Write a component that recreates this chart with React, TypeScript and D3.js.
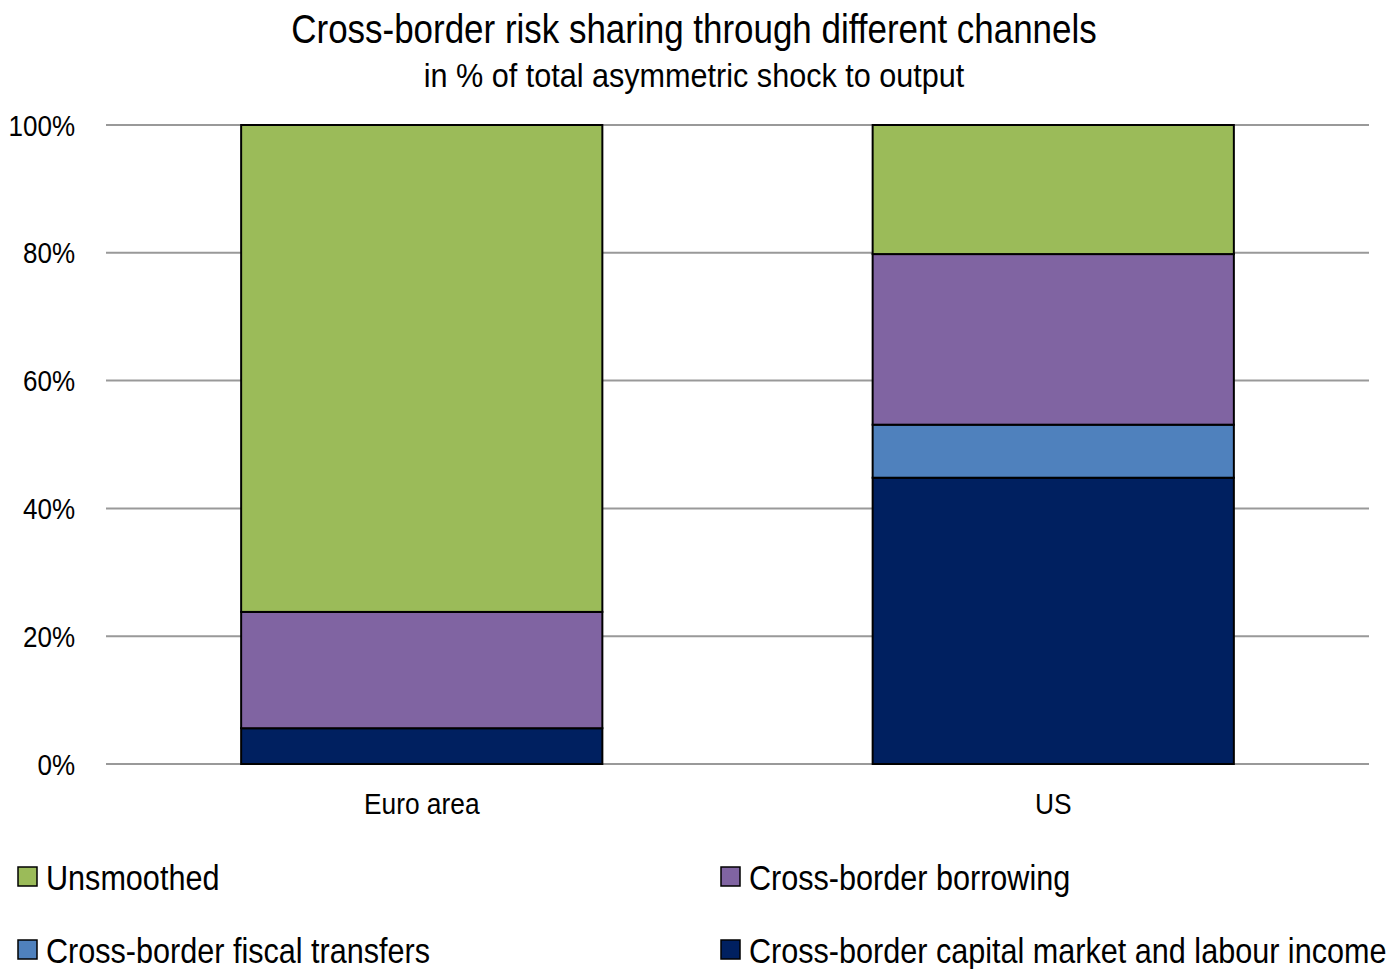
import React from "react";
import * as d3 from "d3";

const categories = ["Euro area", "US"];
const seriesNames = [
  "Cross-border capital market and labour income",
  "Cross-border fiscal transfers",
  "Cross-border borrowing",
  "Unsmoothed",
];
const capitalMarket = [5.6, 44.8];
const fiscalTransfers = [0, 8.3];
const borrowing = [18.2, 26.7];
const unsmoothed = [76.2, 20.2];
const seriesColors = ["#002060", "#4F81BD", "#8064A2", "#9BBB59"];
const yTicks = [0, 20, 40, 60, 80, 100];
const legendOrder = [3, 2, 1, 0];

const FONT = "'Liberation Sans', Arial, sans-serif";

function NText({ x, y, s, children, ...rest }: any) {
  return (
    <text transform={`translate(${x},${y}) scale(${s},1)`} x={0} y={0} {...rest}>
      {children}
    </text>
  );
}

export default function App() {
  const W = 1391, H = 969;
  const left = 106, right = 1369, top = 125, bottom = 764;
  const x = d3.scaleBand<string>().domain(categories).range([left, right]).paddingInner(0.428).paddingOuter(0.214);
  const y = d3.scaleLinear().domain([0, 100]).range([bottom, top]);
  const rows = categories.map((c, i) => ({
    cat: c,
    s0: capitalMarket[i],
    s1: fiscalTransfers[i],
    s2: borrowing[i],
    s3: unsmoothed[i],
  }));
  const stack = d3.stack<any>().keys(["s0", "s1", "s2", "s3"])(rows);

  const legendPos = [
    { x: 18, y: 877 },
    { x: 721, y: 877 },
    { x: 18, y: 950 },
    { x: 721, y: 950 },
  ];

  return (
    <svg width={W} height={H} style={{ position: "absolute", left: 0, top: 0 }} fontFamily={FONT}>
      <rect width={W} height={H} fill="#fff" />
      <NText x={694} y={43} s={0.874} textAnchor="middle" fontSize={40}>Cross-border risk sharing through different channels</NText>
      <NText x={694} y={87} s={0.9} textAnchor="middle" fontSize={34}>in % of total asymmetric shock to output</NText>
      {yTicks.map((t) => (
        <g key={t}>
          <line x1={left} x2={right} y1={y(t)} y2={y(t)} stroke="#999" strokeWidth={2} />
          <NText x={75} y={y(t)} s={0.867} dy="0.35em" textAnchor="end" fontSize={30}>{t}%</NText>
        </g>
      ))}
      {stack.map((layer, si) => (
        <g key={si}>
          {layer.map((d, ci) =>
            d[1] - d[0] > 0 ? (
              <rect
                key={ci}
                x={x(categories[ci])!}
                width={x.bandwidth()}
                y={y(d[1])}
                height={y(d[0]) - y(d[1])}
                fill={seriesColors[si]}
                stroke="#000"
                strokeWidth={2}
              />
            ) : null
          )}
        </g>
      ))}
      {categories.map((c) => (
        <NText key={c} x={x(c)! + x.bandwidth() / 2} y={803} s={0.877} dy="0.35em" textAnchor="middle" fontSize={30}>{c}</NText>
      ))}
      {legendOrder.map((si, i) => (
        <g key={si}>
          <rect x={legendPos[i].x} y={legendPos[i].y - 10} width={19} height={19} fill={seriesColors[si]} stroke="#000" strokeWidth={1.5} />
          <NText x={legendPos[i].x + 28} y={legendPos[i].y} s={0.85} dy="0.35em" fontSize={36}>{seriesNames[si]}</NText>
        </g>
      ))}
    </svg>
  );
}
